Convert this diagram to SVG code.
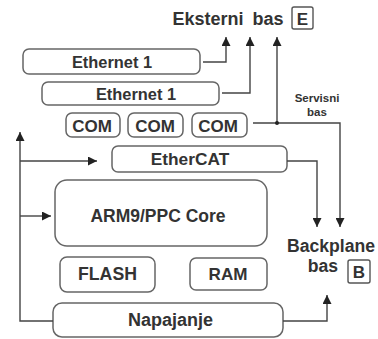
<svg xmlns="http://www.w3.org/2000/svg" width="378" height="339" viewBox="0 0 378 339">
<defs>
<marker id="ah" viewBox="0 0 10 10" refX="10" refY="5" markerWidth="10" markerHeight="9" markerUnits="userSpaceOnUse" orient="auto">
<path d="M0,0 L10,5 L0,10 Z" fill="#222"/>
</marker>
</defs>
<style>
.box{fill:#fff;stroke:#666;stroke-width:1.5}
.t{font-family:"Liberation Sans",Arial,sans-serif;font-weight:bold;fill:#333;text-anchor:middle}
.c{fill:none;stroke:#444;stroke-width:1.4}
.lb{fill:#fff;stroke:#555;stroke-width:1.4}
</style>
<rect width="378" height="339" fill="#fff"/>
<g id="eksterni">
<text class="t" x="228" y="25" font-size="18" word-spacing="4">Eksterni bas</text>
<rect class="lb" x="292" y="7" width="21" height="22" rx="2"/>
<text class="t" x="302.5" y="24.5" font-size="17">E</text>
</g>
<g id="eth1"><rect class="box" x="23" y="49" width="177" height="25" rx="6"/><text class="t" x="112" y="68" font-size="16.4">Ethernet 1</text></g>
<g id="eth2"><rect class="box" x="42" y="82" width="177" height="23" rx="6"/><text class="t" x="136" y="100" font-size="16.4">Ethernet 1</text></g>
<g id="com1"><rect class="box" x="66" y="113" width="54" height="24" rx="6"/><text class="t" x="92" y="132" font-size="17">COM</text></g>
<g id="com2"><rect class="box" x="128" y="113" width="55" height="24" rx="6"/><text class="t" x="155" y="132" font-size="17">COM</text></g>
<g id="com3"><rect class="box" x="192" y="113" width="55" height="24" rx="6"/><text class="t" x="218" y="132" font-size="17">COM</text></g>
<g id="servisni"><text class="t" x="317" y="102" font-size="11.5">Servisni</text><text class="t" x="317" y="116" font-size="11.5">bas</text></g>
<g id="ethercat"><rect class="box" x="112" y="146" width="175" height="26" rx="6"/><text class="t" x="190" y="165" font-size="17.3">EtherCAT</text></g>
<g id="arm"><rect class="box" x="55" y="180" width="212" height="66" rx="12"/><text class="t" x="158" y="222" font-size="17.5">ARM9/PPC Core</text></g>
<g id="flash"><rect class="box" x="60" y="257" width="95" height="35" rx="7"/><text class="t" x="107.5" y="280" font-size="17.7">FLASH</text></g>
<g id="ram"><rect class="box" x="190" y="258" width="77" height="32" rx="6"/><text class="t" x="228" y="280" font-size="17.1">RAM</text></g>
<g id="napajanje"><rect class="box" x="53" y="303" width="230" height="34" rx="9"/><text class="t" x="170.5" y="326" font-size="18">Napajanje</text></g>
<g id="backplane">
<text class="t" x="331" y="252" font-size="17.6">Backplane</text>
<text class="t" x="323" y="272" font-size="17.6">bas</text>
<rect class="lb" x="348" y="260" width="22" height="23" rx="2"/>
<text class="t" x="359" y="278" font-size="17">B</text>
</g>
<g id="connectors">
<path class="c" d="M203,62 H226 V37" marker-end="url(#ah)"/>
<path class="c" d="M222,93 H250 V37" marker-end="url(#ah)"/>
<path class="c" d="M277,123 V37" marker-end="url(#ah)"/>
<path class="c" d="M253,123 H340 V227" marker-end="url(#ah)"/>
<circle cx="277" cy="123" r="2" fill="#222"/>
<path class="c" d="M287,161 H317 V227" marker-end="url(#ah)"/>
<path class="c" d="M283,321 H327 V295" marker-end="url(#ah)"/>
<path class="c" d="M53,321 H20 V132" marker-end="url(#ah)"/>
<path class="c" d="M20,161 H97" marker-end="url(#ah)"/>
<path class="c" d="M20,216 H51" marker-end="url(#ah)"/>
</g>
</svg>
